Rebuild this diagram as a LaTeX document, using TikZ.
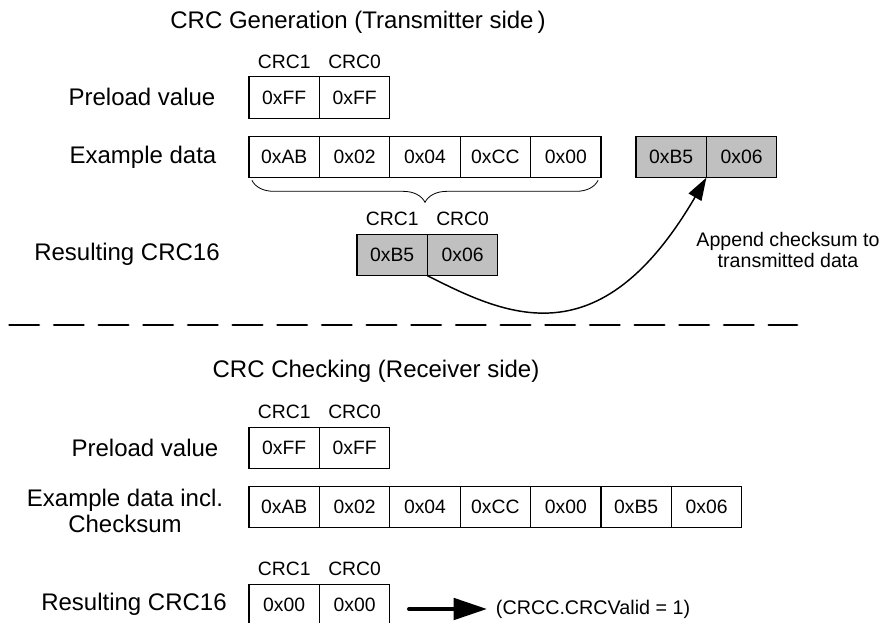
\documentclass[tikz,border=0pt]{standalone}
\usepackage{fontspec}
\setmainfont{Liberation Sans}
\usetikzlibrary{
  arrows.meta,                % Triangle arrow tips
  positioning,                % relative placement of the byte cells
  decorations.pathreplacing   % brace under the example data
}
\definecolor{crcgray}{RGB}{192,192,192}

\tikzset{
  lbl/.style={font=\fontsize{18}{21}\selectfont, inner sep=0pt},
  tag/.style={font=\fontsize{14.5}{17}\selectfont, inner sep=0pt},
  cell/.style={draw, line width=0.9pt, minimum width=52.8pt, minimum height=31pt,
    inner sep=0pt, outer sep=0pt, font=\fontsize{14.5}{17}\selectfont},
  cellg/.style={cell, fill=crcgray},
  sepline/.style={line width=2.2pt, line cap=round, dash pattern=on 22pt off 11.5pt},
}

\begin{document}
\begin{tikzpicture}[x=0.75pt, y=-0.75pt]
  \useasboundingbox (0,0) rectangle (885,623);

  % =============== CRC Generation (transmitter side) ===============
  \node[lbl] (gentitle) at (358,22) {CRC Generation (Transmitter side\,)};

  % preload value
  \node[lbl] (genprelbl) at (142,97) {Preload value};
  \node[cell] (genpre1) at (284.2,97.5) {0xFF};
  \node[cell, right=0pt of genpre1] (genpre0) {0xFF};
  \node[tag, above=6pt of genpre1] (genpretag1) {CRC1};
  \node[tag, above=6pt of genpre0] (genpretag0) {CRC0};

  % example data
  \node[lbl] (gendatalbl) at (143,157) {Example data};
  \node[cell] (gend1) at (284.2,157) {0xAB};
  \node[cell, right=0pt of gend1] (gend2) {0x02};
  \node[cell, right=0pt of gend2] (gend3) {0x04};
  \node[cell, right=0pt of gend3] (gend4) {0xCC};
  \node[cell, right=0pt of gend4] (gend5) {0x00};

  % checksum appended to the data
  \node[cellg] (appB5) at (671.2,157) {0xB5};
  \node[cellg, right=0pt of appB5] (app06) {0x06};

  % brace over all data bytes
  \draw[decorate, decoration={brace, mirror, amplitude=16.5pt}, line width=0.6pt]
    ([xshift=2.2pt,yshift=-2pt]gend1.south west) -- ([xshift=-2.2pt,yshift=-2pt]gend5.south east);

  % resulting CRC16
  \node[lbl] (genreslbl) at (127,254) {Resulting CRC16};
  \node[cellg] (resB5) at (392.2,255) {0xB5};
  \node[cellg, right=0pt of resB5] (res06) {0x06};
  \node[tag, above=6pt of resB5] (restag1) {CRC1};
  \node[tag, above=6pt of res06] (restag0) {CRC0};

  \node[align=center, inner sep=0pt, font=\fontsize{14.7}{15.75}\selectfont] (appendtxt)
    at (788,250) {Append checksum to\\transmitted data};
  \draw[line width=1.1pt, -{Triangle[length=17pt, width=11pt]}]
    (resB5.south east) .. controls (507,316) and (600,360) .. (appB5.south east);

  % separator
  \draw[sepline] (9.5,325) -- (797,325);

  % =============== CRC Checking (receiver side) ===============
  \node[lbl] (chktitle) at (376,371) {CRC Checking (Receiver side)};

  % preload value
  \node[lbl] (chkprelbl) at (145,448) {Preload value};
  \node[cell] (chkpre1) at (284.2,448) {0xFF};
  \node[cell, right=0pt of chkpre1] (chkpre0) {0xFF};
  \node[tag, above=6pt of chkpre1] (chkpretag1) {CRC1};
  \node[tag, above=6pt of chkpre0] (chkpretag0) {CRC0};

  % example data incl. checksum
  \node[lbl, align=center, font=\fontsize{18}{19.5}\selectfont] (chkdatalbl)
    at (125,511) {Example data incl.\\Checksum};
  \node[cell] (chkd1) at (284.2,507) {0xAB};
  \node[cell, right=0pt of chkd1] (chkd2) {0x02};
  \node[cell, right=0pt of chkd2] (chkd3) {0x04};
  \node[cell, right=0pt of chkd3] (chkd4) {0xCC};
  \node[cell, right=0pt of chkd4] (chkd5) {0x00};
  \node[cell, right=0pt of chkd5] (chkd6) {0xB5};
  \node[cell, right=0pt of chkd6] (chkd7) {0x06};

  % resulting CRC16 = 0
  \node[lbl] (chkreslbl) at (134,604) {Resulting CRC16};
  \node[cell] (chkres1) at (284.2,605) {0x00};
  \node[cell, right=0pt of chkres1] (chkres0) {0x00};
  \node[tag, above=6pt of chkres1] (chkrestag1) {CRC1};
  \node[tag, above=6pt of chkres0] (chkrestag0) {CRC0};

  \coordinate (chkarrow) at (409,609);
  \node[anchor=west, inner xsep=6.5pt, inner ysep=0pt, font=\fontsize{14.8}{17}\selectfont]
    (chkvalid) at (487,609) {(CRCC.CRCValid = 1)};
  \draw[line width=3pt, line cap=round, -{Triangle[length=25pt, width=16pt]}]
    (chkarrow) -- (chkvalid.west);
\end{tikzpicture}
\end{document}
